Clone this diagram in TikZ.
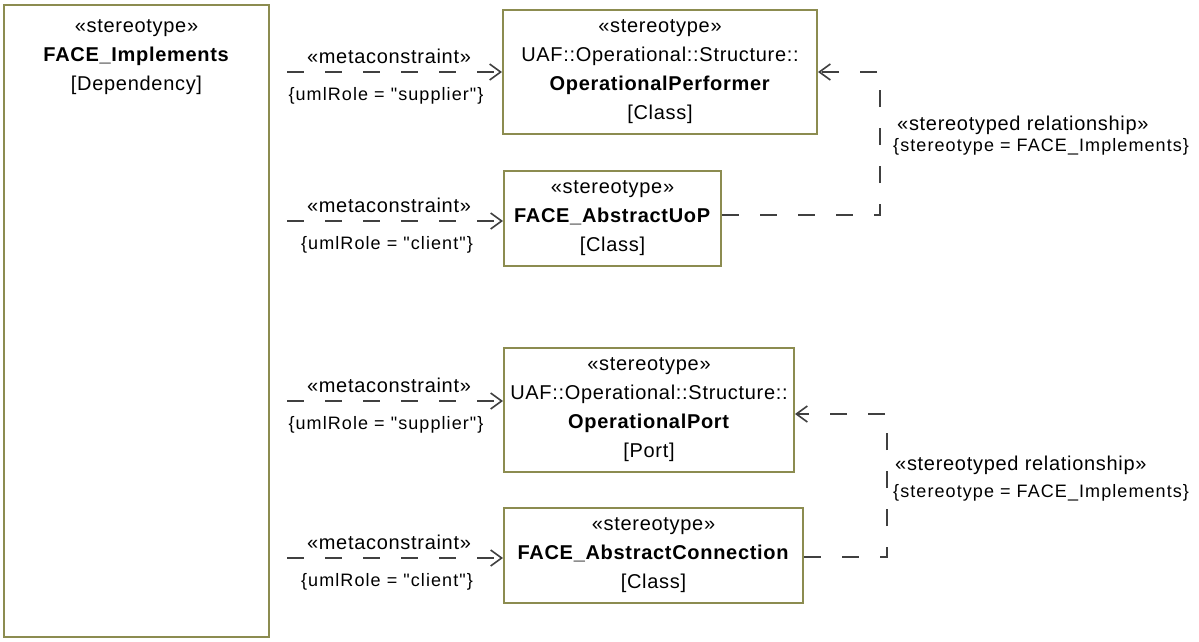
\documentclass[tikz,border=0pt]{standalone}
\usepackage{fontspec}
\setmainfont{Liberation Sans}
\newfontfamily\mainf[LetterSpace=3.5]{Liberation Sans}
\newfontfamily\smallf[LetterSpace=6]{Liberation Sans}
\usetikzlibrary{arrows.meta}
\definecolor{boxc}{RGB}{140,140,80}
\definecolor{linec}{RGB}{64,64,64}
\tikzset{
  umlbox/.style={draw=boxc, line width=2pt, fill=white, align=center, inner sep=0pt,
    font={\mainf\fontsize{20}{29}\selectfont}},
  boxtext/.style={align=center, inner sep=0pt, font={\mainf\fontsize{20}{29}\selectfont}},
  lbl/.style={inner sep=0pt, font={\mainf\fontsize{20}{24}\selectfont}},
  slbl/.style={inner sep=0pt, font={\smallf\fontsize{18}{22}\selectfont}},
  dep/.style={draw=linec, line width=1.6pt, dash pattern=on 17pt off 21pt,
    -{Straight Barb[length=11pt,width=16pt,line width=1.6pt]}},
}
\begin{document}
\begin{tikzpicture}[x=1pt,y=-1pt]
\useasboundingbox (0,0) rectangle (1199,641);
\fill[white] (0,0) rectangle (1199,641);

% left box
\node[umlbox, minimum width=265pt, minimum height=632pt] (impl) at (136.5,321) {};
\node[boxtext] (impltxt) at (136.5,57) {«stereotype»\\\textbf{FACE\_Implements}\\{[}Dependency{]}};

% class boxes
\node[umlbox, minimum width=314pt, minimum height=124pt] (perf) at (660,72)
  {«stereotype»\\UAF::Operational::Structure::\\\textbf{OperationalPerformer}\\{[}Class{]}};
\node[umlbox, minimum width=217pt, minimum height=95pt] (uop) at (612.5,218.5)
  {«stereotype»\\\textbf{FACE\_AbstractUoP}\\{[}Class{]}};
\node[umlbox, minimum width=290pt, minimum height=124pt] (port) at (649,410)
  {«stereotype»\\UAF::Operational::Structure::\\\textbf{OperationalPort}\\{[}Port{]}};
\node[umlbox, minimum width=299pt, minimum height=95pt] (conn) at (653.5,555.5)
  {«stereotype»\\\textbf{FACE\_AbstractConnection}\\{[}Class{]}};

% metaconstraint arrows
\coordinate (s1) at (287,72);
\coordinate (s2) at (287,221);
\coordinate (s3) at (287,401);
\coordinate (s4) at (287,558);
\draw[dep] (s1) -- (s1 -| perf.west);
\draw[dep] (s2) -- (s2 -| uop.west);
\draw[dep] (s3) -- (s3 -| port.west);
\draw[dep] (s4) -- (s4 -| conn.west);

\node[lbl, anchor=base] (m1) at (389,63) {«metaconstraint»};
\node[slbl, anchor=base] (r1) at (386,100) {\{umlRole = "supplier"\}};
\node[lbl, anchor=base] (m2) at (389,212) {«metaconstraint»};
\node[slbl, anchor=base] (r2) at (387,249) {\{umlRole = "client"\}};
\node[lbl, anchor=base] (m3) at (389,392) {«metaconstraint»};
\node[slbl, anchor=base] (r3) at (386,429) {\{umlRole = "supplier"\}};
\node[lbl, anchor=base] (m4) at (389,549) {«metaconstraint»};
\node[slbl, anchor=base] (r4) at (387,586) {\{umlRole = "client"\}};

% stereotyped relationships
\coordinate (k1) at (880,72);
\coordinate (k1b) at (880,215);
\draw[dep] (k1b -| uop.east) -- (k1b) -- (k1) -- (k1 -| perf.east);
\coordinate (k2) at (887,414);
\coordinate (k2b) at (887,557);
\draw[dep] (k2b -| conn.east) -- (k2b) -- (k2) -- (k2 -| port.east);

\node[lbl, anchor=base west] (sr1) at (897,130) {«stereotyped relationship»};
\node[slbl, anchor=base west] (st1) at (893,151) {\{stereotype = FACE\_Implements\}};
\node[lbl, anchor=base west] (sr2) at (895,470) {«stereotyped relationship»};
\node[slbl, anchor=base west] (st2) at (893,497) {\{stereotype = FACE\_Implements\}};
\end{tikzpicture}
\end{document}
